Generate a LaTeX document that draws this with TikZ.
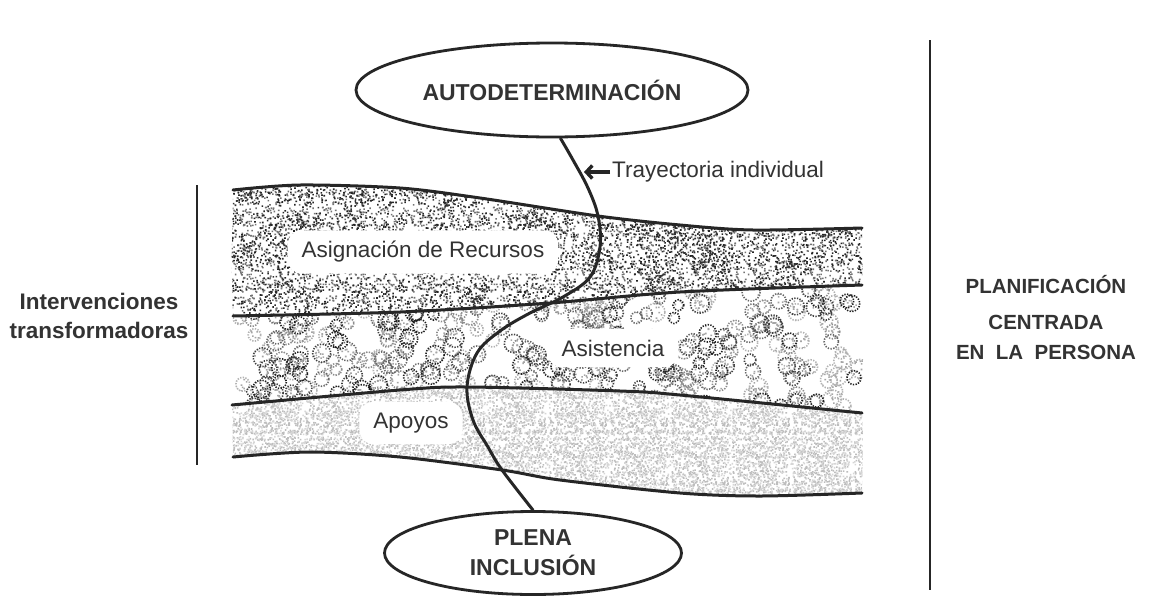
\documentclass[tikz,border=0pt]{standalone}
\usepackage{fontspec}
\setmainfont{Liberation Sans}
\usepackage{tikz}
\usetikzlibrary{arrows.meta,shapes.geometric,patterns}
\pgfmathsetseed{2718}
\pgfdeclarepatternformonly{speckA}{\pgfqpoint{0pt}{0pt}}{\pgfqpoint{57pt}{53pt}}{\pgfqpoint{57pt}{53pt}}{%
  \foreach \i in {1,...,190}{\pgfmathsetmacro\px{55*rnd}\pgfmathsetmacro\py{51*rnd}\pgfpathrectangle{\pgfpoint{\px pt}{\py pt}}{\pgfqpoint{1.6pt}{1.6pt}}\pgfusepath{fill}}}
\pgfdeclarepatternformonly{speckB}{\pgfqpoint{0pt}{0pt}}{\pgfqpoint{83pt}{67pt}}{\pgfqpoint{83pt}{67pt}}{%
  \foreach \i in {1,...,260}{\pgfmathsetmacro\px{81*rnd}\pgfmathsetmacro\py{65*rnd}\pgfpathrectangle{\pgfpoint{\px pt}{\py pt}}{\pgfqpoint{1.6pt}{1.6pt}}\pgfusepath{fill}}}
\pgfdeclarepatternformonly{fogA}{\pgfqpoint{0pt}{0pt}}{\pgfqpoint{61pt}{59pt}}{\pgfqpoint{61pt}{59pt}}{%
  \foreach \i in {1,...,420}{\pgfmathsetmacro\px{59*rnd}\pgfmathsetmacro\py{57*rnd}\pgfpathrectangle{\pgfpoint{\px pt}{\py pt}}{\pgfqpoint{1.6pt}{1.6pt}}\pgfusepath{fill}}}
\pgfdeclarepatternformonly{fogB}{\pgfqpoint{0pt}{0pt}}{\pgfqpoint{79pt}{71pt}}{\pgfqpoint{79pt}{71pt}}{%
  \foreach \i in {1,...,480}{\pgfmathsetmacro\px{77*rnd}\pgfmathsetmacro\py{69*rnd}\pgfpathrectangle{\pgfpoint{\px pt}{\py pt}}{\pgfqpoint{1.6pt}{1.6pt}}\pgfusepath{fill}}}
\tikzset{
  bandline/.style={draw=black!85,line width=3pt,line cap=round},
  trajline/.style={draw=black!85,line width=3pt,line cap=round},
  goal/.style={ellipse,draw=black!85,line width=2.8pt,inner sep=0pt,fill=white,align=center,text=black!80,font=\bfseries\fontsize{23}{30}\selectfont},
  sidelabel/.style={inner sep=0pt,align=center,text=black!80,font=\bfseries\fontsize{22.5}{29}\selectfont},
  bandlabel/.style={fill=white,rounded corners=14pt,inner xsep=14pt,inner ysep=11pt,text=black!80,font=\fontsize{22.5}{26}\selectfont},
  pointer/.style={draw=black!85,line width=3.4pt,-{Straight Barb[length=6pt,width=13pt]}},
  divider/.style={draw=black!85,line width=2.8pt},
  ring/.style={line width=1.6pt,dash pattern=on 1.3pt off 1.4pt}
}
\begin{document}
\begin{tikzpicture}[x=1pt,y=-1pt]
\path[use as bounding box] (0,0) rectangle (1165,611);
\path[fill=white,draw=none] (0,0) rectangle (1165,611);
% Asignacion de Recursos band
\begin{scope}
\clip plot[smooth] coordinates {(233,190) (300,185) (400,188) (480,198) (598,216) (680,225) (753,230) (862,228)} -- (870,611) -- (225,611) -- cycle;
\clip plot[smooth] coordinates {(233,316) (400,312) (550,303) (680,292) (862,285)} -- (870,0) -- (225,0) -- cycle;
\fill[pattern=speckA,pattern color=black!55] (225,180) rectangle (870,320);
\fill[pattern=speckB,pattern color=black!85] (225,180) rectangle (870,320);
\foreach \c in {1,...,32}{
  \pgfmathsetmacro\cx{240+615*rnd}
  \pgfmathsetmacro\cy{195+110*rnd}
  \fill[black!80] \foreach \i in {1,...,35}{ ({\cx+(rnd+rnd+rnd-1.5)*18},{\cy+(rnd+rnd+rnd-1.5)*14}) rectangle ++(1.6,1.6) };
}
\end{scope}
% Asistencia band
\begin{scope}
\clip plot[smooth] coordinates {(233,316) (400,312) (550,303) (680,292) (862,285)} -- (870,611) -- (225,611) -- cycle;
\clip plot[smooth] coordinates {(232,405) (400,390) (467,387) (620,391) (680,395) (862,413)} -- (870,0) -- (225,0) -- cycle;
\foreach \g in {30,45,60,75,88}{
  \draw[ring,black!\g,pattern=speckB,pattern color=black!35] \foreach \i in {1,...,75}{ ({238+622*rnd},{290+122*rnd}) circle [radius={5.5+4*rnd}] };
}
\end{scope}
% Apoyos band
\begin{scope}
\clip plot[smooth] coordinates {(232,405) (400,390) (467,387) (620,391) (680,395) (862,413)} -- (870,611) -- (225,611) -- cycle;
\clip plot[smooth] coordinates {(233,457) (310,452) (400,457) (502,470) (560,480) (680,493) (760,496) (862,493)} -- (870,0) -- (225,0) -- cycle;
\fill[pattern=fogA,pattern color=black!26] (225,380) rectangle (870,505);
\fill[pattern=fogB,pattern color=black!16] (225,380) rectangle (870,505);
\end{scope}
\node[bandlabel] (recursos) at (423,252) {Asignación de Recursos};
\node[bandlabel] (asistencia) at (613,348) {Asistencia};
\node[bandlabel] (apoyos) at (411,423) {Apoyos};
\draw[bandline] plot[smooth] coordinates {(233,190) (300,185) (400,188) (480,198) (598,216) (680,225) (753,230) (862,228)};
\draw[bandline] plot[smooth] coordinates {(233,316) (400,312) (550,303) (680,292) (862,285)};
\draw[bandline] plot[smooth] coordinates {(232,405) (400,390) (467,387) (620,391) (680,395) (862,413)};
\draw[bandline] plot[smooth] coordinates {(233,457) (310,452) (400,457) (502,470) (560,480) (680,493) (760,496) (862,493)};
\node[goal,minimum width=392pt,minimum height=94pt] (auto) at (552,90) {AUTODETERMINACIÓN};
\node[goal,minimum width=297pt,minimum height=83pt] (plena) at (533,553) {PLENA\\INCLUSIÓN};
\draw[trajline] plot[smooth,tension=0.6] coordinates {(auto.-80) (573,160) (588,188) (598,216) (600,247) (590,277) (563,297) (530,313) (500,331) (477,353) (467,387) (473,420) (488,447) (502,470) (plena.north)};
\node[inner sep=2pt,anchor=west,text=black!80,font=\fontsize{22.5}{26}\selectfont] (tray) at (610,172) {Trayectoria individual};
\coordinate (hit) at (584,172);
\draw[pointer] (tray.west) -- (hit);
\draw[divider] (197,185) -- (197,465);
\draw[divider] (930,40) -- (930,590);
\node[sidelabel] (interv) at (99,316) {Intervenciones\\transformadoras};
\node[sidelabel,font=\bfseries\fontsize{20.5}{30}\selectfont] (planif) at (1046,318) {PLANIFICACIÓN\\[6pt]CENTRADA\\EN~~LA~~PERSONA};
\end{tikzpicture}
\end{document}
